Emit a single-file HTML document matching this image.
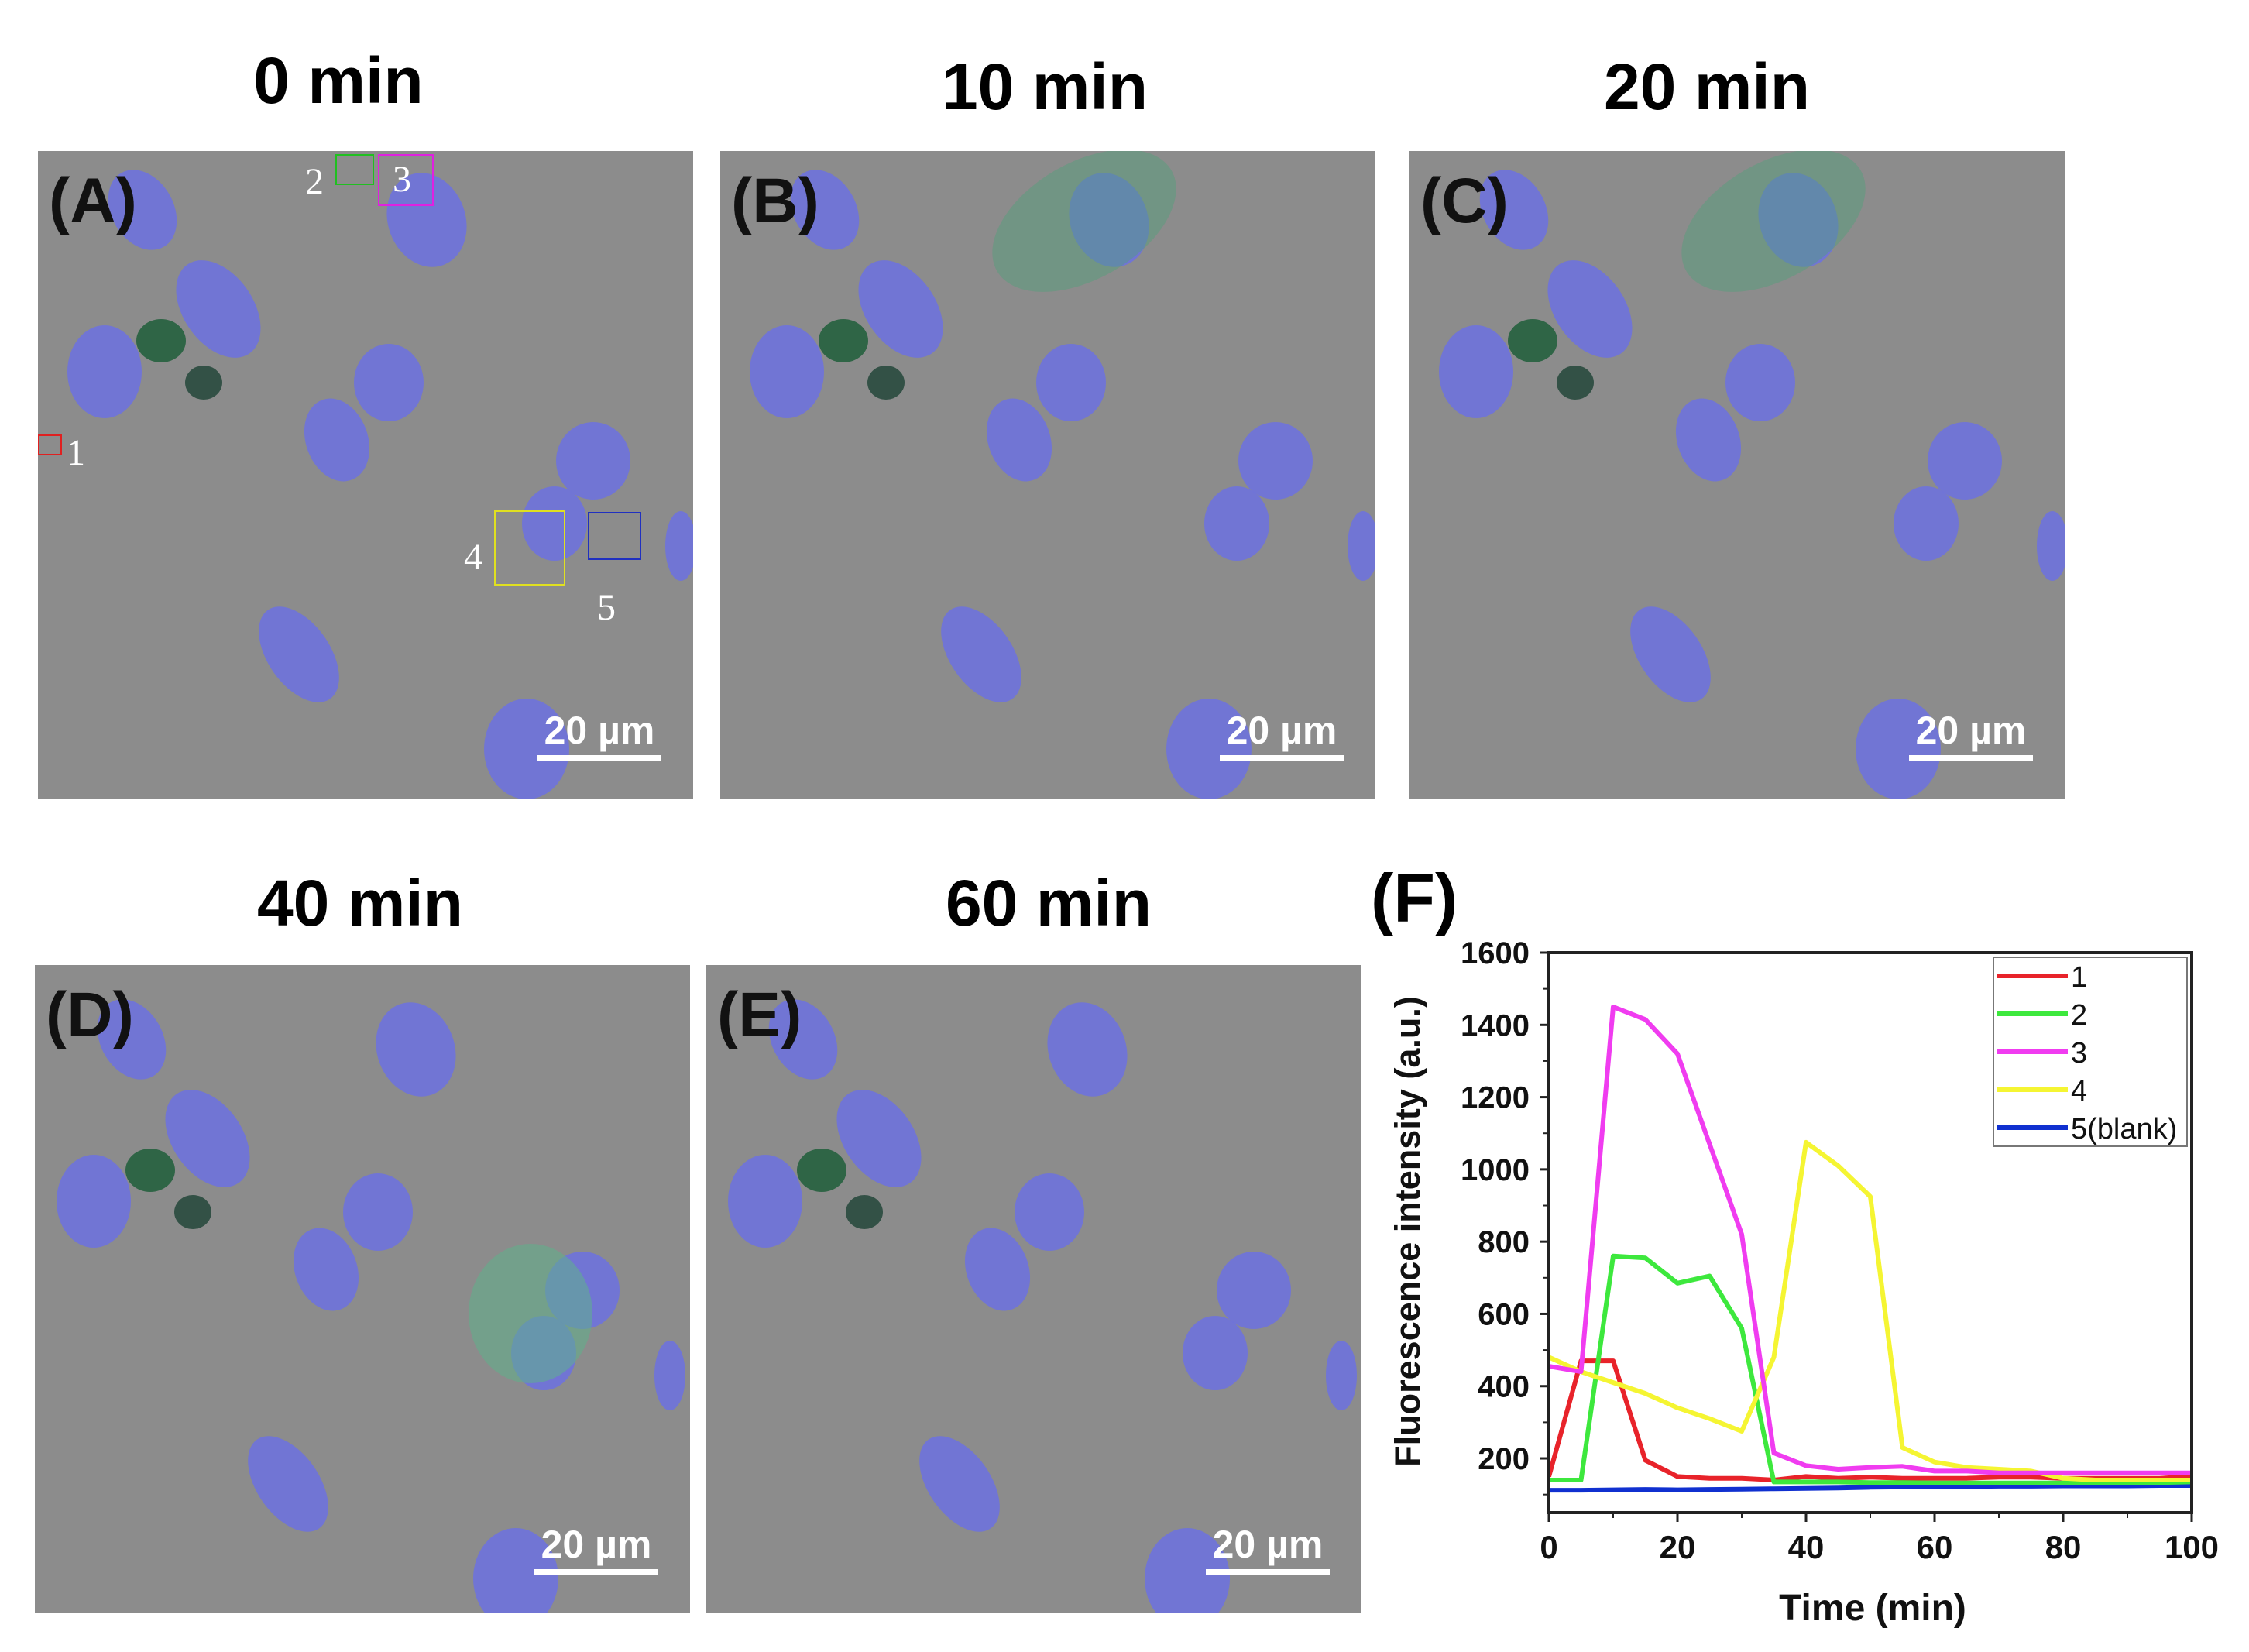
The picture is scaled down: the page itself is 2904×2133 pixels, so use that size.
<!DOCTYPE html>
<html><head><meta charset="utf-8"><style>
html,body{margin:0;padding:0;background:#fff;}
body{width:2904px;height:2133px;position:relative;overflow:hidden;font-family:"Liberation Sans",Arial,sans-serif;}
.title{position:absolute;font-weight:bold;font-size:84px;color:#000;transform:translateX(-50%);white-space:nowrap;}
.panel{position:absolute;width:846px;height:836px;background:#8c8c8c;overflow:hidden;}
.panel svg{position:absolute;left:0;top:0;}
.plabel{position:absolute;left:14px;top:18px;font-weight:bold;font-size:82px;color:#111;}
</style></head><body>
<div class="title" style="left:437px;top:56px">0 min</div>
<div class="title" style="left:1349px;top:64px">10 min</div>
<div class="title" style="left:2204px;top:64px">20 min</div>
<div class="title" style="left:465px;top:1118px">40 min</div>
<div class="title" style="left:1354px;top:1118px">60 min</div>

<div class="panel" style="left:49px;top:195px"></div>
<div class="panel" style="left:930px;top:195px"></div>
<div class="panel" style="left:1820px;top:195px;width:846px"></div>
<div class="panel" style="left:45px;top:1246px"></div>
<div class="panel" style="left:912px;top:1246px"></div>

<svg id="chart" width="2904" height="2133" style="position:absolute;left:0;top:0" font-family="Liberation Sans, Arial, sans-serif"></svg>

<script>
// ---- chart data ----
const times = [0,5,10,15,20,25,30,35,40,45,50,55,60,65,70,75,80,85,90,95,100];
const s1 = [150,470,470,195,150,145,145,140,150,145,148,145,145,145,148,148,145,145,145,145,150];
const s2 = [140,140,760,755,685,705,560,135,135,135,133,133,132,132,132,132,132,133,133,133,135];
const s3 = [455,440,1450,1415,1320,1070,820,215,180,170,175,178,165,165,160,160,160,160,160,160,160];
const s4 = [480,440,410,380,340,310,275,480,1075,1010,925,230,190,175,170,165,145,140,140,140,140];
const s5 = [112,112,113,114,113,114,115,116,117,118,120,121,122,122,123,123,124,124,124,125,125];
const seriesNames = ["1","2","3","4","5(blank)"];
const seriesColors = ["#e8232a","#3de83d","#f03cf0","#f5f532","#1030d0"];
const yTicks = [200,400,600,800,1000,1200,1400,1600];
const xTicks = [0,20,40,60,80,100];

const NS="http://www.w3.org/2000/svg";
const svg=document.getElementById('chart');
const L=2000,R=2830,T=1230,B=1953,YMIN=50,YMAX=1600,XMIN=0,XMAX=100;
const xs=v=>L+(v-XMIN)/(XMAX-XMIN)*(R-L);
const ys=v=>B-(v-YMIN)/(YMAX-YMIN)*(B-T);
function mk(tag,attrs,parent){const e=document.createElementNS(NS,tag);for(const k in attrs)e.setAttribute(k,attrs[k]);(parent||svg).appendChild(e);return e;}

const fl=mk('text',{x:1770,y:1190,'font-size':88,'font-weight':'bold',fill:'#000'});


fl.textContent='(F)';

const series=[s1,s2,s3,s4,s5];
[4,0,1,3,2].forEach(i=>{
  const d=series[i].map((v,j)=>(j?'L':'M')+xs(times[j]).toFixed(1)+','+ys(v).toFixed(1)).join(' ');
  const p=mk('path',{d:d,fill:'none',stroke:seriesColors[i],'stroke-width':6,'stroke-linejoin':'round'});
  
  
});

const frame=mk('rect',{x:L,y:T,width:R-L,height:B-T,fill:'none',stroke:'#222','stroke-width':4});



yTicks.forEach(v=>{
  mk('line',{x1:L-12,x2:L,y1:ys(v),y2:ys(v),stroke:'#222','stroke-width':3});
  const t=mk('text',{x:1975,y:ys(v)+14,'text-anchor':'end','font-size':40,'font-weight':'bold',fill:'#111'});
  
  
  t.textContent=v;
});
for(let v=100;v<1600;v+=200){mk('line',{x1:L-7,x2:L,y1:ys(v),y2:ys(v),stroke:'#222','stroke-width':2});}
xTicks.forEach(v=>{
  mk('line',{x1:xs(v),x2:xs(v),y1:B,y2:B+12,stroke:'#222','stroke-width':3});
  const t=mk('text',{x:xs(v),y:2012,'text-anchor':'middle','font-size':42,'font-weight':'bold',fill:'#111'});
  
  
  t.textContent=v;
});
for(let v=10;v<100;v+=20){mk('line',{x1:xs(v),x2:xs(v),y1:B,y2:B+7,stroke:'#222','stroke-width':2});}

const xt=mk('text',{x:2418,y:2092,'text-anchor':'middle','font-size':48,'font-weight':'bold',fill:'#111'});


xt.textContent='Time (min)';
const yt=mk('text',{x:0,y:0,'text-anchor':'middle','font-size':45,'font-weight':'bold',fill:'#111',transform:'translate(1833,1590) rotate(-90)'});


yt.textContent='Fluorescence intensity (a.u.)';

const lg=mk('rect',{x:2574,y:1236,width:250,height:244,fill:'#fff',stroke:'#777','stroke-width':2});


seriesNames.forEach((n,i)=>{
  const y=1260+i*49;
  const ln=mk('line',{x1:2578,x2:2670,y1:y,y2:y,stroke:seriesColors[i],'stroke-width':6});
  
  
  const t=mk('text',{x:2674,y:y+14,'font-size':38,fill:'#111'});
  
  
  t.textContent=n;
});

// ---- microscopy panels ----
const nuclei=[[135,76,40,55,-30],[502,89,50,62,-20],[233,204,45,70,-35],[86,285,48,60,0],[453,299,45,50,0],[386,373,40,55,-20],[717,400,48,50,0],[667,481,42,48,0],[337,650,40,70,-35],[631,772,55,65,0],[830,510,20,45,0]];
const labels=['A','B','C','D','E'];
document.querySelectorAll('.panel').forEach((p,k)=>{
  const s=document.createElementNS(NS,'svg');
  s.setAttribute('width',846);s.setAttribute('height',836);
  p.appendChild(s);
  const dx=k>=3?-10:0, dy=k>=3?20:0;
  nuclei.forEach(n=>{
    const e=mk('ellipse',{cx:n[0]+dx,cy:n[1]+dy,rx:n[2],ry:n[3],fill:'#6a6fe6','fill-opacity':0.8,transform:`rotate(${n[4]} ${n[0]+dx} ${n[1]+dy})`},s);
    
    
  });
  mk('ellipse',{cx:159+dx,cy:245+dy,rx:32,ry:28,fill:'#1e5e3a','fill-opacity':0.85},s);
  mk('ellipse',{cx:214+dx,cy:299+dy,rx:24,ry:22,fill:'#23463a','fill-opacity':0.85},s);
  if(k===1||k===2){mk('ellipse',{cx:470,cy:90,rx:130,ry:75,fill:'#4fa07a','fill-opacity':0.45,transform:'rotate(-30 470 90)'},s);}
  if(k===3){mk('ellipse',{cx:640,cy:450,rx:80,ry:90,fill:'#5fb08a','fill-opacity':0.55},s);}
  if(k===0){
    [['#e02020',0,367,30,25],['#20c020',385,5,48,38],['#e020e0',440,5,70,65],['#e0e020',590,465,90,95],['#2030c0',711,467,67,60]].forEach(b=>{
      mk('rect',{x:b[1],y:b[2],width:b[3],height:b[4],fill:'none',stroke:b[0],'stroke-width':2},s);
    });
    [['1',37,405],['2',345,55],['3',458,52],['4',550,540],['5',722,605]].forEach(t=>{
      const tx=mk('text',{x:t[1],y:t[2],'font-size':48,fill:'#fff','font-family':'Liberation Serif, serif'},s);
      
      
      tx.textContent=t[0];
    });
  }
  const bar=mk('rect',{x:645,y:780,width:160,height:7,fill:'#fff'},s);
  
  
  const st=mk('text',{x:725,y:765,'text-anchor':'middle','font-size':50,'font-weight':'bold',fill:'#fff'},s);
  
  
  st.textContent='20 µm';
  const lb=document.createElement('div');
  lb.className='plabel';
  
  
  lb.textContent='('+labels[k]+')';
  p.appendChild(lb);
});
</script>
</body></html>
